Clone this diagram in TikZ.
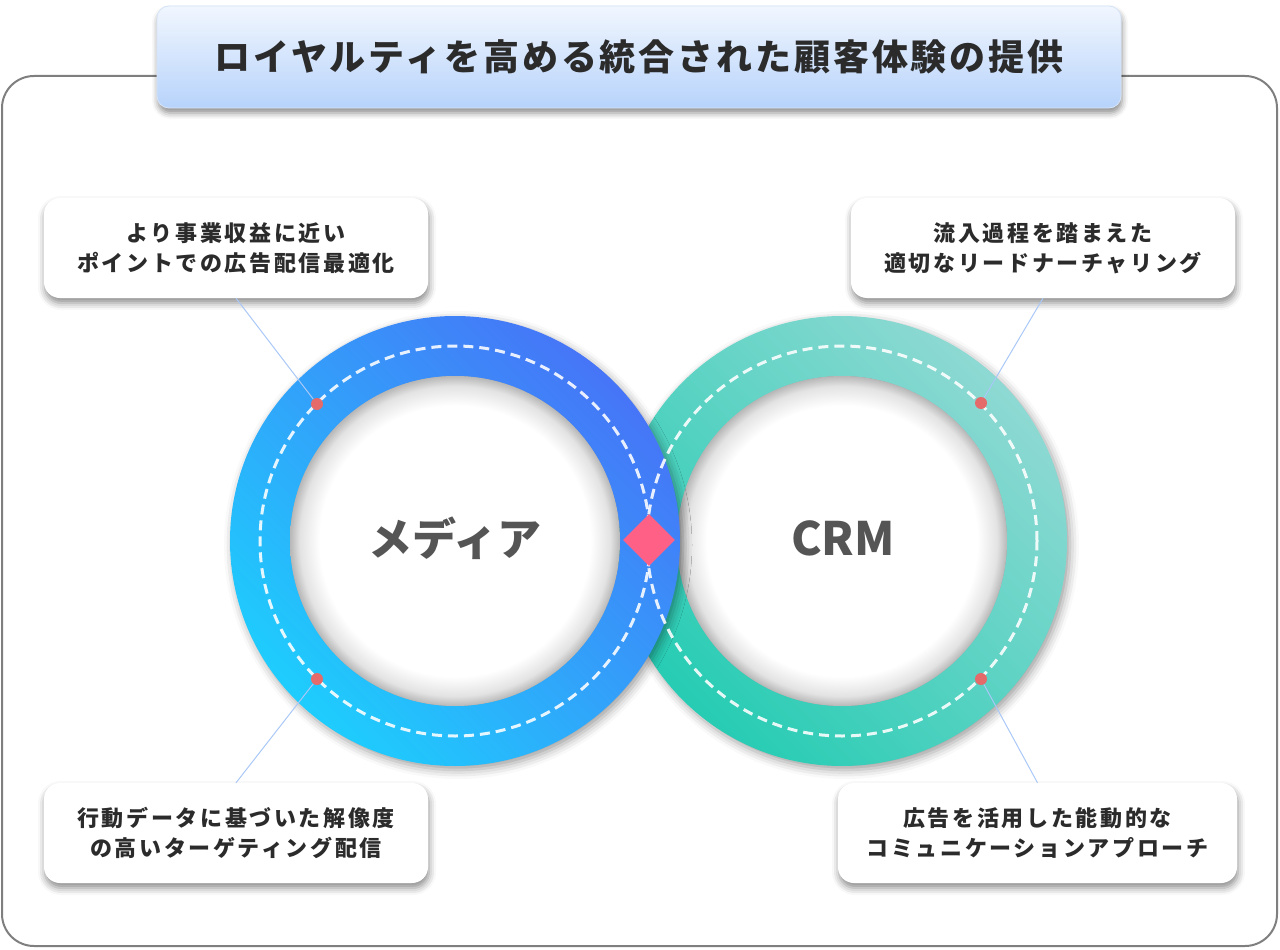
\documentclass[tikz,border=0pt]{standalone}
\usepackage{fontspec}
\setmainfont{Noto Sans CJK JP}
\usetikzlibrary{shapes.geometric,shadows.blur}
\definecolor{framegray}{HTML}{7F7F7F}
\definecolor{titletop}{HTML}{F1F6FE}
\definecolor{titlebot}{HTML}{B7D3FB}
\definecolor{titleedge}{HTML}{D6E4F8}
\definecolor{txtdark}{HTML}{2B2B2B}
\definecolor{labelgray}{HTML}{555555}
\definecolor{blueA}{HTML}{4675F7}
\definecolor{blueB}{HTML}{1ECDFD}
\definecolor{tealA}{HTML}{8ED9D3}
\definecolor{tealM}{HTML}{72D6CC}
\definecolor{tealB}{HTML}{26CCB3}
\definecolor{dotred}{HTML}{E56A6A}
\definecolor{linkblue}{HTML}{A9C8F7}
\definecolor{diapink}{HTML}{FE6086}
\pgfdeclareradialshading{discglow}{\pgfpoint{0bp}{0bp}}{color(0bp)=(white); color(20.5bp)=(white); color(23.5bp)=(black!11); color(25bp)=(black!28); color(50bp)=(black!28)}
\newcommand\boxfont{\fontsize{22}{30}\selectfont\bfseries\addfontfeatures{LetterSpace=12}}
\newcommand\titlefont{\fontsize{36}{40}\selectfont\bfseries\addfontfeatures{LetterSpace=8}}
\newcommand\ringfont{\fontsize{44}{50}\selectfont\bfseries}
\tikzset{
  callout/.style={fill=white, rounded corners=16pt, minimum width=384pt, minimum height=100pt,
    align=center, font=\boxfont, text=txtdark, inner sep=0pt,
    blur shadow={shadow xshift=1pt, shadow yshift=-5pt, shadow blur radius=7pt, shadow opacity=45}},
  ringshadow/.style={blur shadow={shadow xshift=3pt, shadow yshift=-4pt, shadow blur radius=9pt, shadow opacity=38}},
  dashring/.style={draw=white, line width=3pt, dash pattern=on 10pt off 6pt, draw opacity=0.88},
  dot/.style={circle, fill=dotred, minimum size=12pt, inner sep=0pt},
  link/.style={draw=linkblue, line width=1pt},
  ringlabel/.style={font=\ringfont, text=labelgray},
}
\begin{document}
\begin{tikzpicture}[x=1pt,y=-1pt]
\useasboundingbox (0,0) rectangle (1280,950);
% outer frame
\draw[framegray, line width=2pt, rounded corners=32pt] (2,76) rectangle (1277,946);
% centres
\coordinate (L) at (455,541);
\coordinate (R) at (842,541);
% right ring
\path[ringshadow] (R) circle[radius=225pt];
\shade[even odd rule, top color=tealA, middle color=tealM, bottom color=tealB, shading angle=-45] (R) circle[radius=225pt] (R) circle[radius=165pt];
\shade[shading=discglow] (R) circle[radius=165pt];
% left ring
\path[ringshadow] (L) circle[radius=225pt];
\shade[even odd rule, top color=blueA, bottom color=blueB, shading angle=-45] (L) circle[radius=225pt] (L) circle[radius=165pt];
\shade[shading=discglow] (L) circle[radius=165pt];
% dashed guide circles
\draw[dashring] (R) circle[radius=195pt];
\draw[dashring] (L) circle[radius=195pt];
% diamond
\node[diamond, fill=diapink, minimum width=52pt, minimum height=52pt, inner sep=0pt] (dia) at (649,540) {};
% labels
\node[ringlabel] (media) at (455,538) {メディア};
\node[ringlabel, font=\fontsize{46}{50}\selectfont\bfseries] (crm) at (843,538) {CRM};
% callouts
\node[callout] (tl) at (236,248) {より事業収益に近い\\ポイントでの広告配信最適化};
\node[callout] (tr) at (1043,248) {流入過程を踏まえた\\適切なリードナーチャリング};
\node[callout] (bl) at (236,833) {行動データに基づいた解像度\\の高いターゲティング配信};
\node[callout, minimum width=399pt] (br) at (1037.5,833) {広告を活用した能動的な\\コミュニケーションアプローチ};
% dots
\node[dot] (d1) at (317,404) {};
\node[dot] (d2) at (317,679) {};
\node[dot] (d3) at (981,403) {};
\node[dot] (d4) at (981,679) {};
% connectors
\draw[link] (d1) -- (tl.south);
\draw[link] (d2) -- (bl.north);
\draw[link] (d3) -- (tr.south);
\draw[link] (d4) -- (br.north);
% title
\node[rounded corners=12pt, top color=titletop, bottom color=titlebot, draw=titleedge, line width=0.8pt,
  minimum width=964pt, minimum height=102pt, inner sep=0pt, font=\titlefont, text=txtdark,
  blur shadow={shadow xshift=1pt, shadow yshift=-5pt, shadow blur radius=6pt, shadow opacity=45}] (title) at (639,57) {ロイヤルティを高める統合された顧客体験の提供};
\end{tikzpicture}
\end{document}
